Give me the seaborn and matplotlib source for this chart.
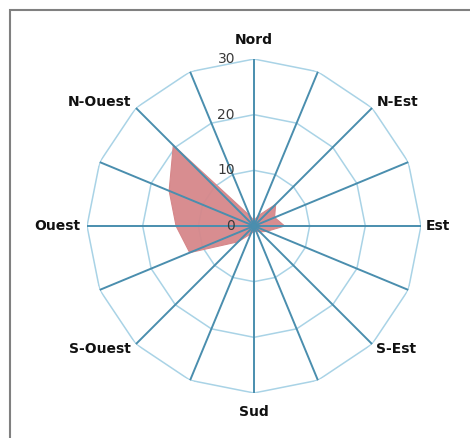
import numpy as np
import matplotlib
matplotlib.use("Agg")
import matplotlib.pyplot as plt
import seaborn as sns
from matplotlib.patches import Rectangle

# Data: 16 wind directions, clockwise from North
directions = ["N", "NNE", "NE", "ENE", "E", "ESE", "SE", "SSE",
              "S", "SSW", "SW", "WSW", "W", "WNW", "NW", "NNW"]
values = [1, 2, 5.5, 4, 5.5, 2.5, 1.5, 1, 1, 1.5, 4, 12.5, 14, 16.5, 20.5, 2]
main_labels = ["Nord", "N-Est", "Est", "S-Est", "Sud", "S-Ouest", "Ouest", "N-Ouest"]
radial_ticks = [0, 10, 20, 30]

sns.set_style("white")
plt.rcParams['font.family'] = ['DejaVu Sans']

W, H = 470, 438
fig = plt.figure(figsize=(W / 100, H / 100), dpi=100)
fig.patch.set_facecolor("white")

cx, cy, R = 254, 226, 167
ax = fig.add_axes([(cx - R) / W, (H - cy - R) / H, 2 * R / W, 2 * R / H],
                  projection="polar")
ax.set_theta_zero_location("N")
ax.set_theta_direction(-1)
ax.set_ylim(0, radial_ticks[-1])
ax.grid(False)
ax.set_xticks([])
ax.set_yticks([])
ax.spines["polar"].set_visible(False)
ax.set_facecolor("white")

n = len(directions)
theta = np.arange(n) * 2 * np.pi / n
theta_c = np.append(theta, theta[0])

# polygonal rings
for rv in radial_ticks[1:]:
    ax.plot(theta_c, [rv] * (n + 1), color="#a9d3e6", lw=1.1, zorder=1)

# data fill
vals_c = np.append(values, values[0])
ax.fill(theta_c, vals_c, color="#d6878a", alpha=0.95, lw=0, zorder=2)
sns.lineplot(x=theta_c, y=vals_c, sort=False, ax=ax, color="#d6878a",
             lw=0.8, zorder=2, estimator=None)

# spokes
for t in theta:
    ax.plot([t, t], [0, radial_ticks[-1]], color="#4a8eae", lw=1.4, zorder=3)

# radial labels
for rv in radial_ticks:
    ax.annotate(str(rv), xy=(0, rv), xytext=(-19, 0), textcoords="offset pixels",
                ha="right", va="center", fontsize=10, color="#3a3a3a", zorder=4)

# direction labels
offsets = [(0, 19, "center"), (5, 6, "left"), (5, 0, "left"), (4, -5, "left"),
           (0, -19, "center"), (-5, -5, "right"), (-7, 0, "right"), (-5, 6, "right")]
for i, lab in enumerate(main_labels):
    t = theta[2 * i]
    dx, dy, ha = offsets[i]
    ax.annotate(lab, xy=(t, radial_ticks[-1]), xytext=(dx, dy),
                textcoords="offset pixels", ha=ha, va="center",
                fontsize=10, fontweight="bold", color="#111111",
                annotation_clip=False, zorder=5)

# border frame
fig.patches.append(Rectangle((10 / W, -0.05), 1.1, (H - 10) / H + 0.05,
                             transform=fig.transFigure, fill=False,
                             edgecolor="#808080", lw=1.5))

fig.savefig("out.png", dpi=100, facecolor="white")
